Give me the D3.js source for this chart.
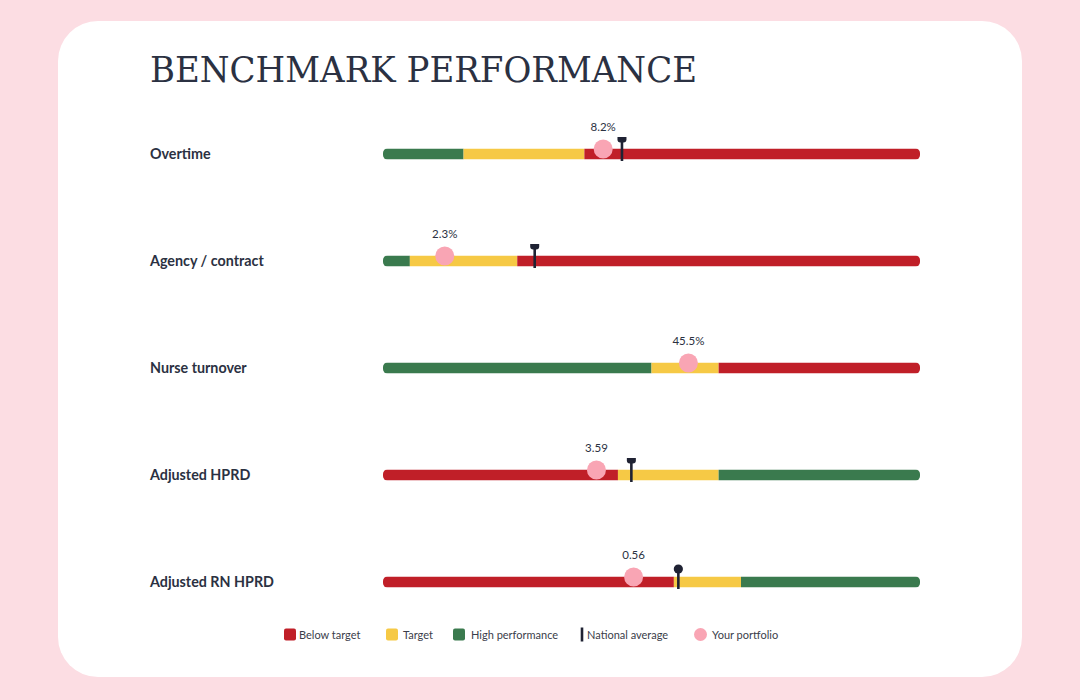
<!DOCTYPE html>
<html>
<head>
<meta charset="utf-8">
<script src="https://cdn.jsdelivr.net/npm/d3@7"></script>
<style>
  body { margin: 0; background: #fcdde3; }
  svg { display: block; }
</style>
</head>
<body>
<svg></svg>
<script>
const WIDTH = 1080;
const HEIGHT = 700;

// data
const categories = ["Overtime", "Agency / contract", "Nurse turnover", "Adjusted HPRD", "Adjusted RN HPRD"];
const domainMin = [0, 0, 0, 2, 0];
const domainMax = [20, 20, 80, 6, 1.2];
const lowerCut = [3, 1, 40, 3.75, 0.65];
const upperCut = [7.5, 5, 50, 4.5, 0.8];
const lowerIsBetter = [true, true, true, false, false];
const portfolio = [8.2, 2.3, 45.5, 3.59, 0.56];
const units = ["%", "%", "%", "", ""];
const national = [8.9, 5.65, null, 3.85, 0.66];
const nationalCap = ["flag", "flag", null, "flag", "dot"];
const legendItems = ["Below target", "Target", "High performance", "National average", "Your portfolio"];

const RED = "#c01f28";
const YELLOW = "#f6c945";
const GREEN = "#3a7a4e";
const PINK = "#f9a5b4";
const INK = "#1f2233";
const TEXT = "#2b3142";

const barX0 = 383;
const barX1 = 920;
const barH = 11;

var svg = d3.select("svg").attr("width", WIDTH).attr("height", HEIGHT);

svg.append("rect")
  .attr("x", 58).attr("y", 21)
  .attr("width", 964).attr("height", 656)
  .attr("rx", 40)
  .attr("fill", "#ffffff");

svg.append("text")
  .attr("x", 150).attr("y", 82)
  .attr("font-family", "'DejaVu Serif', serif")
  .attr("font-size", 35)
  .attr("textLength", 547)
  .attr("lengthAdjust", "spacingAndGlyphs")
  .attr("fill", TEXT)
  .text("BENCHMARK PERFORMANCE");

var rowY = d3.scalePoint().domain(categories).range([154, 582]);

var defs = svg.append("defs");

categories.forEach(function (cat, i) {
  var cy = rowY(cat);
  var x = d3.scaleLinear().domain([domainMin[i], domainMax[i]]).range([barX0, barX1]);

  svg.append("text")
    .attr("x", 150).attr("y", cy + 5)
    .attr("font-family", "Lato, 'Noto Sans', sans-serif")
    .attr("font-weight", "bold")
    .attr("font-size", 14.3)
    .attr("fill", TEXT)
    .text(cat);

  defs.append("clipPath").attr("id", "clip" + i)
    .append("rect")
    .attr("x", barX0).attr("y", cy - barH / 2)
    .attr("width", barX1 - barX0).attr("height", barH)
    .attr("rx", 4.5);

  var colors = lowerIsBetter[i] ? [GREEN, YELLOW, RED] : [RED, YELLOW, GREEN];
  var stops = [domainMin[i], lowerCut[i], upperCut[i], domainMax[i]];
  var segs = colors.map((c, k) => ({ a: stops[k], b: stops[k + 1], c: c }));

  svg.append("g").attr("clip-path", "url(#clip" + i + ")")
    .selectAll("rect").data(segs).enter()
    .append("rect")
    .attr("x", d => x(d.a))
    .attr("y", cy - barH / 2)
    .attr("width", d => x(d.b) - x(d.a))
    .attr("height", barH)
    .attr("fill", d => d.c);

  // portfolio dot
  var px = x(portfolio[i]);
  svg.append("circle")
    .attr("cx", px).attr("cy", cy - 5)
    .attr("r", 9.5)
    .attr("fill", PINK);

  svg.append("text")
    .attr("x", px).attr("y", cy - 23)
    .attr("text-anchor", "middle")
    .attr("font-family", "Lato, 'Noto Sans', sans-serif")
    .attr("font-size", 11.5)
    .attr("fill", TEXT)
    .text(portfolio[i] + units[i]);

  // national average
  if (national[i] != null) {
    var nx = x(national[i]);
    var top = nationalCap[i] === "dot" ? cy - 13 : cy - 15;
    svg.append("line")
      .attr("x1", nx).attr("x2", nx)
      .attr("y1", top).attr("y2", cy + 7)
      .attr("stroke", INK)
      .attr("stroke-width", 2.6);
    if (nationalCap[i] === "dot") {
      svg.append("circle")
        .attr("cx", nx).attr("cy", top)
        .attr("r", 4.6)
        .attr("fill", INK);
    } else {
      svg.append("path")
        .attr("d", `M${nx - 4.5},${top - 2} h9 v2.5 q0,3 -3,3 h-3 q-3,0 -3,-3 z`)
        .attr("fill", INK);
    }
  }
});

// legend
var legX = [284, 386, 453, 582, 700];
var legTextX = [299, 403, 471, 587, 712];
var legend = svg.append("g")
  .attr("font-family", "Lato, 'Noto Sans', sans-serif")
  .attr("font-size", 11)
  .attr("fill", "#3a3d4a");
var legY = 634.5;
var swatches = [RED, YELLOW, GREEN];
legendItems.forEach(function (name, k) {
  var lx = legX[k];
  if (k < 3) {
    legend.append("rect")
      .attr("x", lx).attr("y", legY - 6)
      .attr("width", 12).attr("height", 12)
      .attr("rx", 2)
      .attr("fill", swatches[k]);
  } else if (k === 3) {
    legend.append("line")
      .attr("x1", lx).attr("x2", lx)
      .attr("y1", legY - 7).attr("y2", legY + 7)
      .attr("stroke", INK).attr("stroke-width", 2.6);
  } else {
    legend.append("circle")
      .attr("cx", lx + 0.5).attr("cy", legY)
      .attr("r", 6.5)
      .attr("fill", PINK);
  }
  legend.append("text")
    .attr("x", legTextX[k]).attr("y", legY + 4)
    .text(name);
});
</script>
</body>
</html>
